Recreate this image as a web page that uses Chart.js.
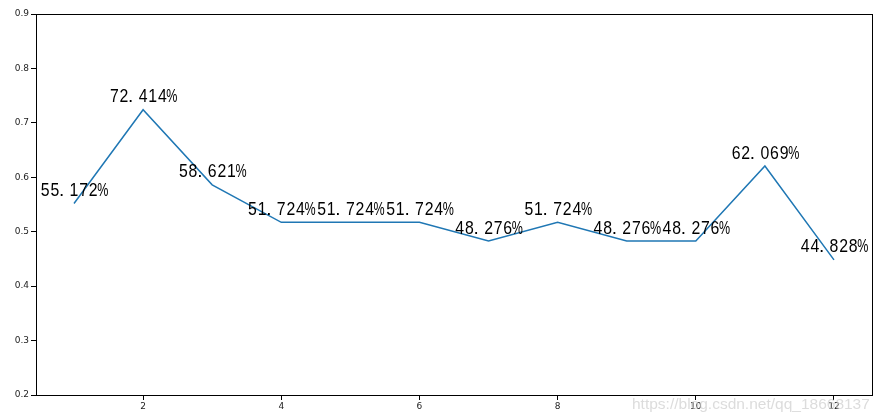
<!DOCTYPE html>
<html>
<head>
<meta charset="utf-8">
<script src="https://cdn.jsdelivr.net/npm/chart.js@4/dist/chart.umd.min.js"></script>
<style>
  html, body { margin: 0; padding: 0; background: #fff; }
  #wrap { width: 884px; height: 418px; position: relative; }
</style>
</head>
<body>
<div id="wrap"><canvas id="chart" width="884" height="418"></canvas></div>
<script>
// data
var months = [1, 2, 3, 4, 5, 6, 7, 8, 9, 10, 11, 12];
var rates = [0.55172, 0.72414, 0.58621, 0.51724, 0.51724, 0.51724,
             0.48276, 0.51724, 0.48276, 0.48276, 0.62069, 0.44828];
var xTicks = [2, 4, 6, 8, 10, 12];
var yTicks = [0.2, 0.3, 0.4, 0.5, 0.6, 0.7, 0.8, 0.9];

// labels above each point, drawn in half-width cells like SimHei
var pointLabels = {
    id: 'pointLabels',
    afterDatasetsDraw: function(chart) {
        var ctx = chart.ctx;
        var xs = chart.scales.x, ys = chart.scales.y;
        var cell = 9.6;
        ctx.save();
        ctx.font = '19px "Liberation Sans", Arial, sans-serif';
        ctx.fillStyle = '#000';
        ctx.textBaseline = 'alphabetic';
        ctx.textAlign = 'center';
        for (var i = 0; i < months.length; i++) {
            var txt = (rates[i] * 100).toFixed(3) + '%';
            var px = xs.getPixelForValue(months[i]);
            var py = ys.getPixelForValue(rates[i]) - 7.5;
            var x0 = px - txt.length * cell / 2;
            for (var j = 0; j < txt.length; j++) {
                var c = txt[j];
                var w = ctx.measureText(c).width;
                var fit = (c === '%') ? cell + 1.5 : cell - 0.8;
                var sx = Math.min(1, fit / w);
                var cx = (c === '.') ? x0 + j * cell + 2 : x0 + (j + 0.5) * cell;
                ctx.save();
                ctx.translate(cx, py);
                ctx.scale(sx, 1);
                ctx.fillText(c, 0, 0);
                ctx.restore();
            }
        }
        ctx.restore();
    }
};

// axes box + the csdn watermark
var frame = {
    id: 'frame',
    afterDraw: function(chart) {
        var ctx = chart.ctx, a = chart.chartArea;
        ctx.save();
        ctx.strokeStyle = '#000';
        ctx.lineWidth = 1;
        ctx.strokeRect(Math.round(a.left) + 0.5, Math.round(a.top) + 0.5,
                       Math.round(a.right - a.left), Math.round(a.bottom - a.top));
        ctx.font = '15.5px "Liberation Sans", Arial, sans-serif';
        ctx.fillStyle = 'rgba(205, 205, 205, 0.7)';
        ctx.textAlign = 'left';
        ctx.textBaseline = 'alphabetic';
        ctx.fillText('https://blog.csdn.net/qq_18668137', 632, 409);
        ctx.restore();
    }
};

new Chart(document.getElementById('chart'), {
    type: 'line',
    data: {
        datasets: [{
            data: months.map(function(m, i) { return { x: m, y: rates[i] }; }),
            borderColor: '#1f77b4',
            borderWidth: 1.5,
            pointRadius: 0,
            tension: 0,
            fill: false
        }]
    },
    options: {
        responsive: false,
        animation: false,
        events: [],
        layout: { padding: { left: 0, right: 12, top: 14, bottom: 0 } },
        plugins: { legend: { display: false }, tooltip: { enabled: false } },
        scales: {
            x: {
                type: 'linear',
                min: 0.45,
                max: 12.55,
                afterBuildTicks: function(s) { s.ticks = xTicks.map(function(v) { return { value: v }; }); },
                afterFit: function(s) { s.height = 23; },
                border: { display: false },
                grid: { drawOnChartArea: false, tickLength: 5, tickColor: '#000', tickWidth: 1 },
                ticks: {
                    color: '#222',
                    padding: 1,
                    maxRotation: 0,
                    autoSkip: false,
                    font: { family: '"DejaVu Sans", sans-serif', size: 9 },
                    callback: function(v) { return String(v); }
                }
            },
            y: {
                min: 0.2,
                max: 0.9,
                afterBuildTicks: function(s) { s.ticks = yTicks.map(function(v) { return { value: v }; }); },
                afterFit: function(s) { s.width = 36; },
                border: { display: false },
                grid: { drawOnChartArea: false, tickLength: 5, tickColor: '#000', tickWidth: 1 },
                ticks: {
                    color: '#222',
                    padding: 2,
                    autoSkip: false,
                    font: { family: '"DejaVu Sans", sans-serif', size: 9 },
                    callback: function(v) { return v.toFixed(1); }
                }
            }
        }
    },
    plugins: [pointLabels, frame]
});
</script>
</body>
</html>
